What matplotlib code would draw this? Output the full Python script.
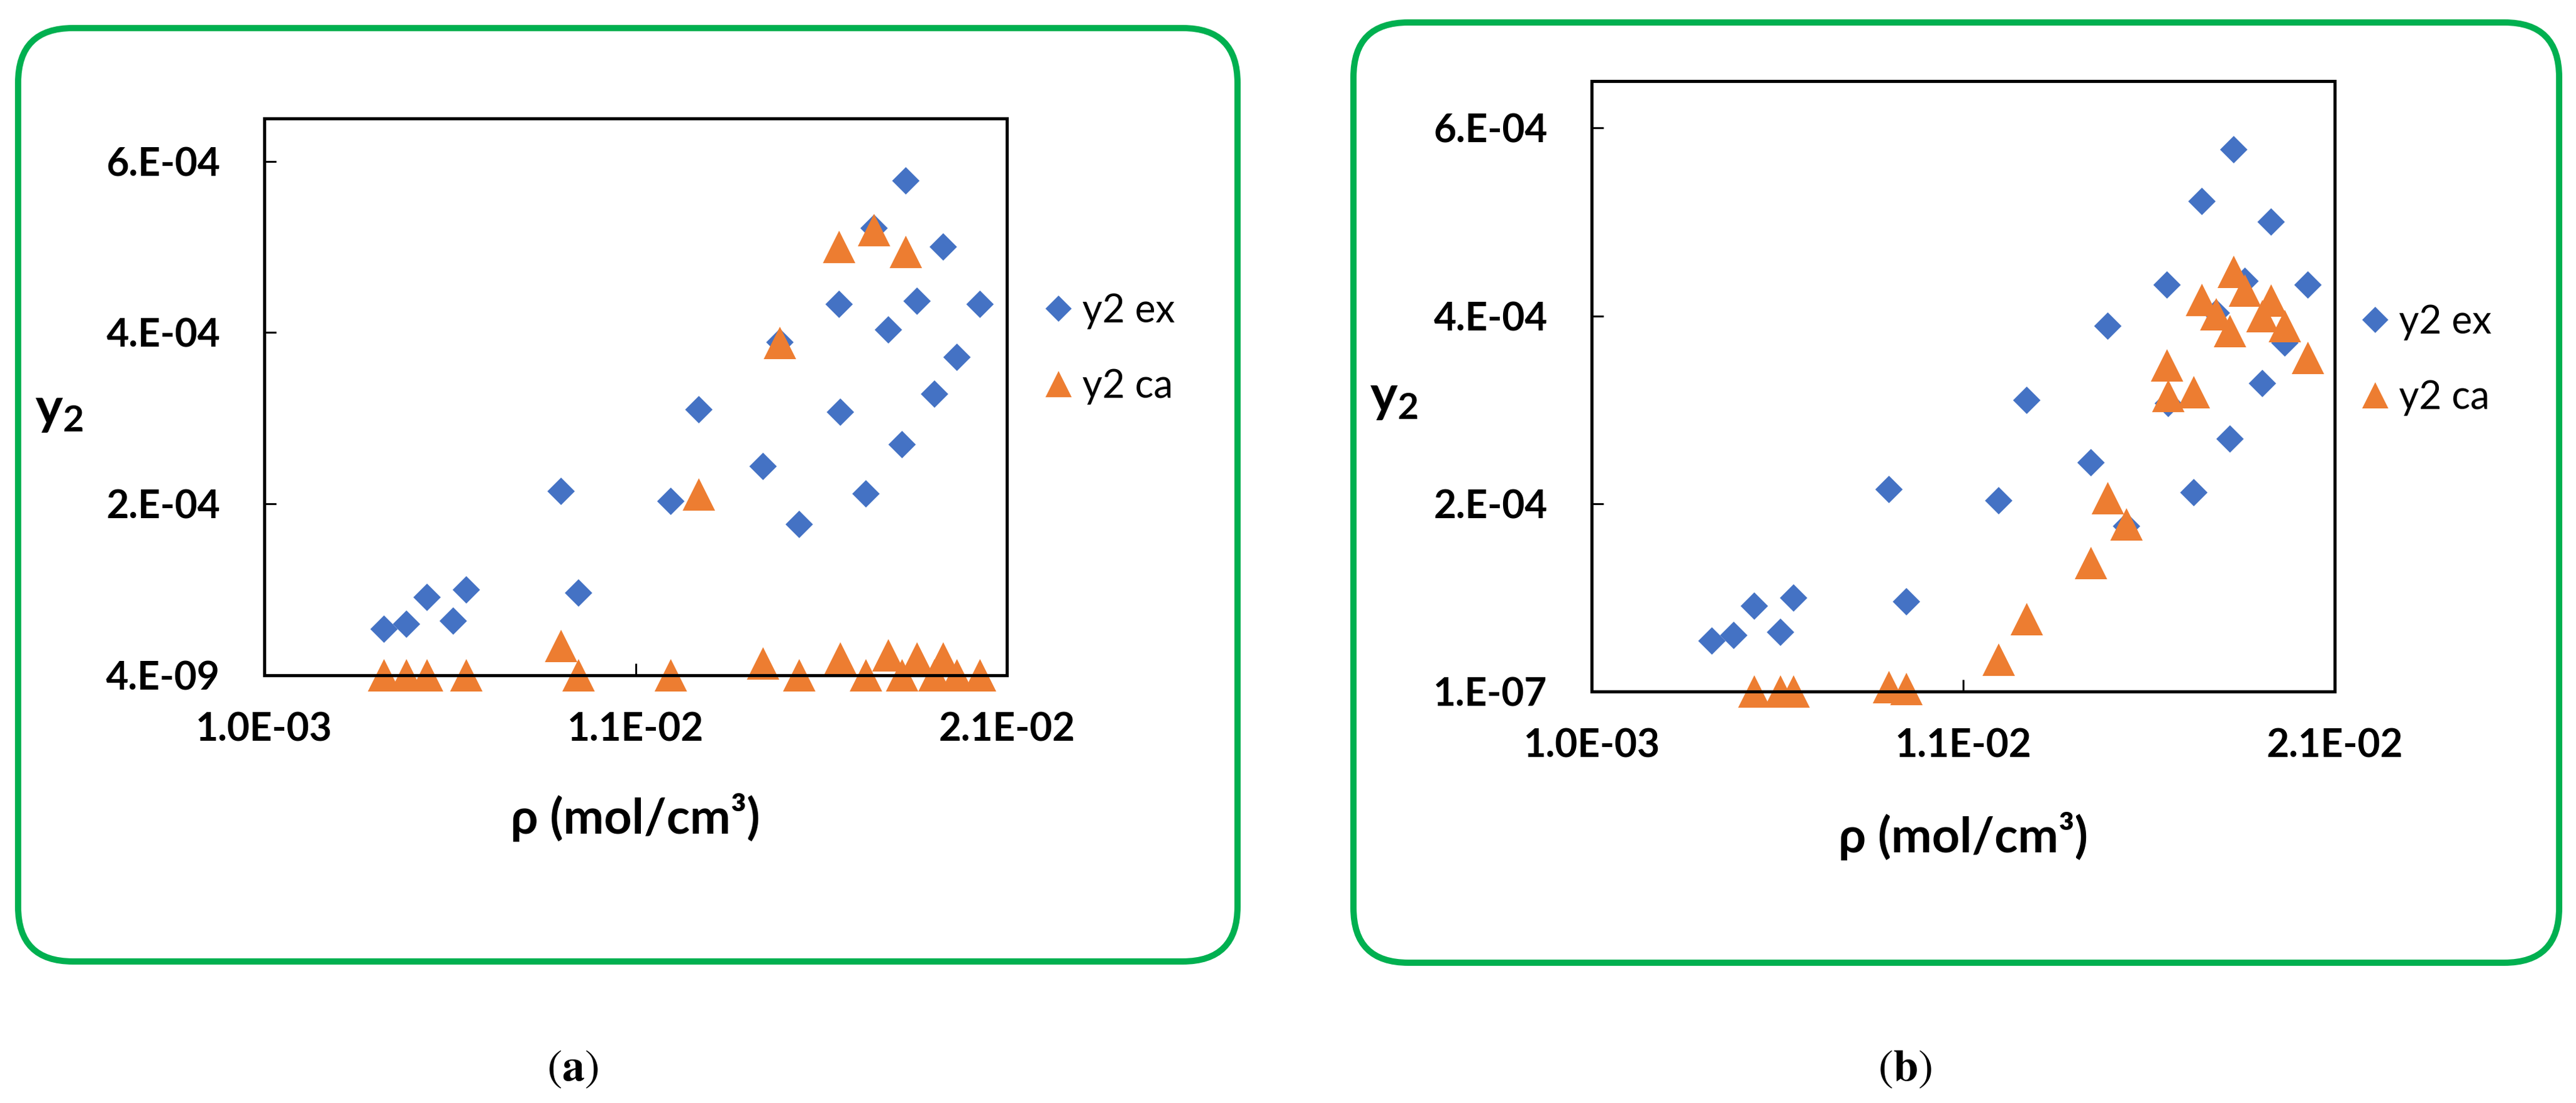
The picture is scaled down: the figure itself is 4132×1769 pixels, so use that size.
import numpy as np
import matplotlib
matplotlib.use("Agg")
import matplotlib.pyplot as plt
from matplotlib.patches import FancyBboxPatch

plt.rcParams['font.family'] = ['Lato', 'DejaVu Sans']
plt.rcParams['mathtext.fontset'] = 'custom'
plt.rcParams['mathtext.rm'] = 'Lato'
plt.rcParams['mathtext.bf'] = 'Lato:bold'
plt.rcParams['mathtext.it'] = 'Lato:italic'

# density (mol/cm3), same for both panels
rho = [0.00423, 0.00483, 0.00538, 0.00608, 0.00644, 0.00900, 0.00947, 0.01195,
       0.01271, 0.01444, 0.01489, 0.01540, 0.01649, 0.01652, 0.01721, 0.01743,
       0.01781, 0.01818, 0.01828, 0.01859, 0.01905, 0.01929, 0.01965, 0.02028]

# experimental y2
y2_ex = [5.4e-5, 6.0e-5, 9.1e-5, 6.3e-5, 1.0e-4, 2.15e-4, 9.6e-5, 2.03e-4,
         3.10e-4, 2.44e-4, 3.89e-4, 1.76e-4, 4.33e-4, 3.07e-4, 2.12e-4, 5.22e-4,
         4.03e-4, 2.69e-4, 5.77e-4, 4.37e-4, 3.28e-4, 5.0e-4, 3.71e-4, 4.33e-4]

nan = np.nan
# calculated y2, panel (a)
y2_ca_a = [5e-9, 5e-9, 5e-9, nan, 5e-9, 3.4e-5, 5e-9, 5e-9,
           2.11e-4, 1.4e-5, 3.88e-4, 5e-9, 5.0e-4, 2.0e-5, 5e-9, 5.2e-4,
           2.3e-5, 5e-9, 4.94e-4, 2.0e-5, 5e-9, 2.0e-5, 5e-9, 5e-9]

# calculated y2, panel (b)
y2_ca_b = [nan, nan, 1.2e-7, 1.2e-7, 1.2e-7, 4.6e-6, 2.7e-6, 3.4e-5,
           7.7e-5, 1.37e-4, 2.06e-4, 1.78e-4, 3.47e-4, 3.15e-4, 3.19e-4, 4.17e-4,
           4.02e-4, 3.84e-4, 4.47e-4, 4.27e-4, 4.0e-4, 4.16e-4, 3.89e-4, 3.55e-4]

x_ticks = [0.001, 0.011, 0.021]
x_ticklabels = ['1.0E-03', '1.1E-02', '2.1E-02']
y_ticks_a = [4e-9, 2e-4, 4e-4, 6e-4]
y_ticklabels_a = ['4.E-09', '2.E-04', '4.E-04', '6.E-04']
y_ticks_b = [1e-7, 2e-4, 4e-4, 6e-4]
y_ticklabels_b = ['1.E-07', '2.E-04', '4.E-04', '6.E-04']

W, H = 4132, 1769
BLUE = '#4472C4'
ORANGE = '#ED7D31'
GREEN = '#00B050'

fig = plt.figure(figsize=(W / 100, H / 100), dpi=100)

# background layer in pixel coordinates for the frames and panel tags
bg = fig.add_axes([0, 0, 1, 1], zorder=-1)
bg.set_xlim(0, W)
bg.set_ylim(H, 0)
bg.axis('off')


def px_axes(l, t, r, b):
    return fig.add_axes([l / W, (H - b) / H, (r - l) / W, (b - t) / H])


def panel(box, frame, y_ca, yticks, yticklabels, ylab_xy, xlab_y, leg_xy, tag, tag_xy):
    l, t, r, b = box
    fl, ft, fr, fb = frame
    bg.add_patch(FancyBboxPatch((fl, ft), fr - fl, fb - ft,
                                boxstyle='round,pad=0,rounding_size=88',
                                fill=False, ec=GREEN, lw=7.2))
    bg.text(tag_xy[0], tag_xy[1], r'$(\mathbf{' + tag + '})$', math_fontfamily='stix',
            fontsize=52, ha='center', va='center')

    ax = px_axes(l, t, r, b)
    ax.set_facecolor('none')
    ax.plot(rho, y2_ex, ls='none', marker='D', ms=22.4, mew=0, color=BLUE,
            label='y2 ex', clip_on=False)
    ax.plot(rho, y_ca, ls='none', marker='^', ms=37, mew=0, color=ORANGE,
            label='y2 ca', clip_on=False)

    ax.set_xlim(0.001, 0.021)
    ax.set_ylim(yticks[0], 6.5e-4)
    ax.set_xticks(x_ticks)
    ax.set_xticklabels(x_ticklabels)
    ax.set_yticks(yticks)
    ax.set_yticklabels(yticklabels)
    for s in ax.spines.values():
        s.set_linewidth(3.6)
        s.set_color('black')
    ax.tick_params(axis='both', direction='in', length=14, width=2.2,
                   labelsize=45)
    ax.tick_params(axis='y', pad=51)
    ax.tick_params(axis='x', pad=42)
    for lab in ax.get_xticklabels() + ax.get_yticklabels():
        lab.set_fontweight('bold')

    ax.set_xlabel('ρ (mol/cm³)', fontsize=56, fontweight='bold', va='center')
    ax.xaxis.set_label_coords(0.5, (b - xlab_y) / (b - t))
    ax.set_ylabel(r'$\mathbf{y_2}$', fontsize=60, rotation=0, ha='center', va='center')
    ax.yaxis.set_label_coords((ylab_xy[0] - l) / (r - l), (b - ylab_xy[1]) / (b - t))

    leg = ax.legend(loc='upper left', bbox_to_anchor=leg_xy, bbox_transform=bg.transData,
                    frameon=False, fontsize=45, borderpad=0, borderaxespad=0,
                    handlelength=0.8, handletextpad=0.2, labelspacing=1.0)
    leg.legend_handles[0].set_markersize(21.5)
    leg.legend_handles[1].set_markersize(30)
    return ax


panel((424, 190, 1615, 1083), (29, 45, 1985, 1542), y2_ca_a, y_ticks_a, y_ticklabels_a,
      (95, 658), 1312, (1673, 470), 'a', (918, 1715))
panel((2553, 130, 3745, 1109), (2171, 36, 4105, 1544), y2_ca_b, y_ticks_b, y_ticklabels_b,
      (2236, 638), 1342, (3785, 488), 'b', (3055, 1715))

fig.savefig('out.png', dpi=100)
